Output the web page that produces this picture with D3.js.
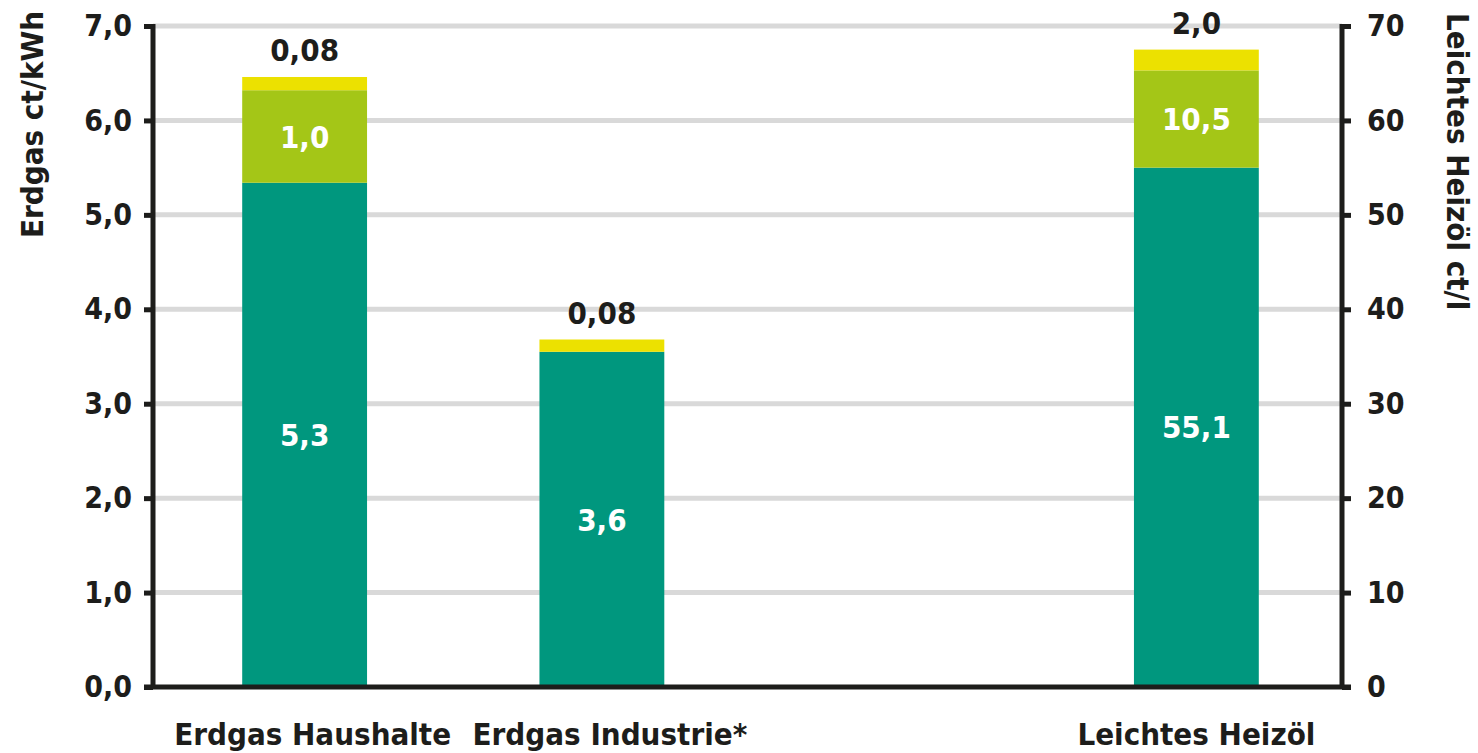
<!DOCTYPE html>
<html>
<head>
<meta charset="utf-8">
<script src="https://cdn.jsdelivr.net/npm/d3@7"></script>
<style>
  html, body { margin: 0; padding: 0; background: #fff; }
  svg { display: block; }
  text { font-family: "DejaVu Sans Condensed", "DejaVu Sans", sans-serif; }
</style>
</head>
<body>
<svg id="chart" width="1478" height="753"></svg>
<script>
// ---- data ----
const slots = ["Erdgas Haushalte", "Erdgas Industrie*", "_gap", "Leichtes Heizöl"];
const categories = ["Erdgas Haushalte", "Erdgas Industrie*", "Leichtes Heizöl"];
const axisOf = ["left", "left", "right"];
const baseValues = [5.34, 3.55, 55.0];
const midValues = [0.98, 0, 10.3];
const topValues = [0.14, 0.13, 2.2];
const baseLabels = ["5,3", "3,6", "55,1"];
const midLabels = ["1,0", "", "10,5"];
const topLabels = ["0,08", "0,08", "2,0"];
const leftTicks = [0, 1, 2, 3, 4, 5, 6, 7];
const rightTicks = [0, 10, 20, 30, 40, 50, 60, 70];
const leftTitle = "Erdgas ct/kWh";
const rightTitle = "Leichtes Heizöl ct/l";

const colors = { base: "#00977e", mid: "#a4c617", top: "#ece100" };

const svg = d3.select("#chart");
const X0 = 153, X1 = 1342, Y0 = 687, Y1 = 26;

const x = d3.scaleBand().domain(slots).range([X0 + 3, X1 + 3]).paddingInner(0.58).paddingOuter(0.29);
const yL = d3.scaleLinear().domain([0, 7]).range([Y0, Y1]);
const yR = d3.scaleLinear().domain([0, 70]).range([Y0, Y1]);

// gridlines
svg.append("g").selectAll("line").data(leftTicks.slice(1)).join("line")
  .attr("x1", X0).attr("x2", X1)
  .attr("y1", d => yL(d)).attr("y2", d => yL(d))
  .attr("stroke", "#d9d9d9").attr("stroke-width", 5);

// bars
const rows = categories.map((c, i) => {
  const y = axisOf[i] === "left" ? yL : yR;
  const b = baseValues[i], m = midValues[i], t = topValues[i];
  return { c, y, segs: [
    { k: "base", v0: 0, v1: b, label: baseLabels[i] },
    { k: "mid", v0: b, v1: b + m, label: midLabels[i] },
    { k: "top", v0: b + m, v1: b + m + t, label: topLabels[i] }
  ]};
});

const bw = x.bandwidth();
rows.forEach(r => {
  const g = svg.append("g");
  r.segs.forEach(s => {
    if (s.v1 - s.v0 <= 0) return;
    g.append("rect")
      .attr("x", x(r.c)).attr("width", bw)
      .attr("y", r.y(s.v1)).attr("height", r.y(s.v0) - r.y(s.v1))
      .attr("fill", colors[s.k]);
  });
  r.segs.forEach(s => {
    if (!s.label) return;
    const cx = x(r.c) + bw / 2;
    if (s.k === "top") {
      g.append("text").attr("x", cx).attr("y", r.y(s.v1) - 16)
        .attr("text-anchor", "middle").attr("font-size", 31).attr("font-weight", "bold")
        .attr("fill", "#1d1d1b").text(s.label);
    } else {
      g.append("text").attr("x", cx).attr("y", (r.y(s.v0) + r.y(s.v1)) / 2)
        .attr("dy", "0.36em")
        .attr("text-anchor", "middle").attr("font-size", 31).attr("font-weight", "bold")
        .attr("fill", "#ffffff").text(s.label);
    }
  });
});

// axes
const axisColor = "#1d1d1b";
const leftAxis = svg.append("g").attr("transform", `translate(${X0},0)`)
  .call(d3.axisLeft(yL).tickValues(leftTicks).tickSize(9).tickPadding(12)
    .tickFormat(d => d3.format(".1f")(d).replace(".", ",")));
const rightAxis = svg.append("g").attr("transform", `translate(${X1},0)`)
  .call(d3.axisRight(yR).tickValues(rightTicks).tickSize(9).tickPadding(16)
    .tickFormat(d3.format("d")));
[leftAxis, rightAxis].forEach(a => {
  a.select(".domain").attr("stroke", axisColor).attr("stroke-width", 5)
    .attr("d", `M0,${Y1 - 2}V${Y0}`);
  a.selectAll(".tick line").attr("stroke", axisColor).attr("stroke-width", 5);
  a.selectAll(".tick text").attr("font-size", 30).attr("font-weight", "bold")
    .attr("fill", axisColor).attr("font-family", "DejaVu Sans Condensed");
});

// baseline
svg.append("line").attr("x1", X0 - 9).attr("x2", X1 + 9).attr("y1", Y0).attr("y2", Y0)
  .attr("stroke", axisColor).attr("stroke-width", 5);

// category labels
const bottom = svg.append("g").attr("transform", `translate(0,${Y0})`)
  .call(d3.axisBottom(x).tickSize(0).tickPadding(0)
    .tickFormat(d => categories.includes(d) ? d : ""));
bottom.select(".domain").remove();
bottom.selectAll(".tick text").attr("font-size", 31).attr("font-weight", "bold")
  .attr("fill", axisColor).attr("font-family", "DejaVu Sans Condensed")
  .attr("dy", null).attr("y", 58)
  .attr("dx", (d, i) => i < 2 ? 8 : 0);

// axis titles
svg.append("text")
  .attr("transform", "translate(43,238) rotate(-90)")
  .attr("text-anchor", "start").attr("font-size", 31).attr("font-weight", "bold")
  .attr("fill", axisColor).text(leftTitle);
svg.append("text")
  .attr("transform", "translate(1447,13) rotate(90)")
  .attr("text-anchor", "start").attr("font-size", 31).attr("font-weight", "bold")
  .attr("fill", axisColor).text(rightTitle);
</script>
</body>
</html>
